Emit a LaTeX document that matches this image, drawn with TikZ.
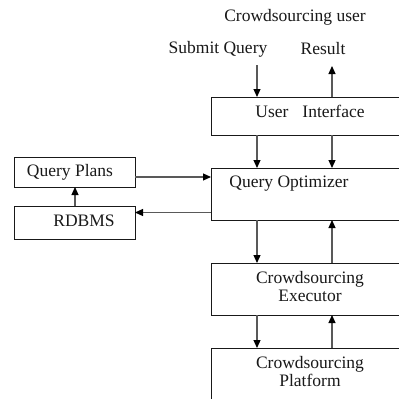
\documentclass[tikz,border=0pt]{standalone}
\usepackage{fontspec}
\setmainfont{Liberation Serif}
\usetikzlibrary{arrows.meta}
\begin{document}
\begin{tikzpicture}[x=1pt,y=-1pt,
  box/.style={draw=black!90,line width=1pt,inner sep=0pt,outer sep=0pt},
  txt/.style={font=\fontsize{17.5}{19}\selectfont,text=black!90,inner sep=0pt,align=center},
  arr/.style={draw=black!65,line width=1.2pt,-{Triangle[length=8pt,width=7pt,fill=black,color=black]}}]
\useasboundingbox (0,0) rectangle (399,399);
\clip (0,0) rectangle (399,399);
\fill[white] (0,0) rectangle (399,399);
% boxes
\node[box,minimum width=199pt,minimum height=38pt] (ui) at (310.5,116) {};
\node[box,minimum width=199pt,minimum height=52pt] (qo) at (310.5,194) {};
\node[box,minimum width=199pt,minimum height=52pt] (ex) at (310.5,289) {};
\node[box,minimum width=199pt,minimum height=80pt] (pf) at (310.5,388) {};
\node[box,minimum width=121pt,minimum height=30pt] (qp) at (74.5,172) {};
\node[box,minimum width=121pt,minimum height=33pt] (db) at (74.5,222.5) {};
% texts
\node[txt] (cu) at (295,17) {Crowdsourcing user};
\node[txt] (sq) at (218,49) {Submit Query};
\node[txt] (rs) at (323,49) {Result};
\node[txt] (uit) at (310,111) {User\hspace{0.8em}Interface};
\node[txt] (qot) at (289,184) {Query Optimizer};
\node[txt] (ext) at (310,287) {Crowdsourcing\\[-1pt]Executor};
\node[txt] (pft) at (310,372) {Crowdsourcing\\[-1pt]Platform};
\node[txt] (qpt) at (70,172) {Query Plans};
\node[txt] (dbt) at (84,221) {RDBMS};
% column coordinates
\coordinate (cl) at (257,0);
\coordinate (cr) at (332,0);
\coordinate (sqs) at (257,65);
\coordinate (rss) at (332,66);
% arrows
\draw[arr] (sqs) -- (ui.north -| cl);
\draw[arr] (ui.north -| cr) -- (rss);
\draw[arr] (ui.south -| cl) -- (qo.north -| cl);
\draw[arr] (ui.south -| cr) -- (qo.north -| cr);
\draw[arr] (qo.south -| cl) -- (ex.north -| cl);
\draw[arr] (ex.north -| cr) -- (qo.south -| cr);
\draw[arr] (ex.south -| cl) -- (pf.north -| cl);
\draw[arr] (pf.north -| cr) -- (ex.south -| cr);
\draw[arr] (qp.east |- 0,177) -- (qo.west |- 0,177);
\draw[arr] (qo.west |- 0,212.5) -- (db.east |- 0,212.5);
\draw[arr] (db.north -| 75,0) -- (qp.south -| 75,0);
\end{tikzpicture}
\end{document}
